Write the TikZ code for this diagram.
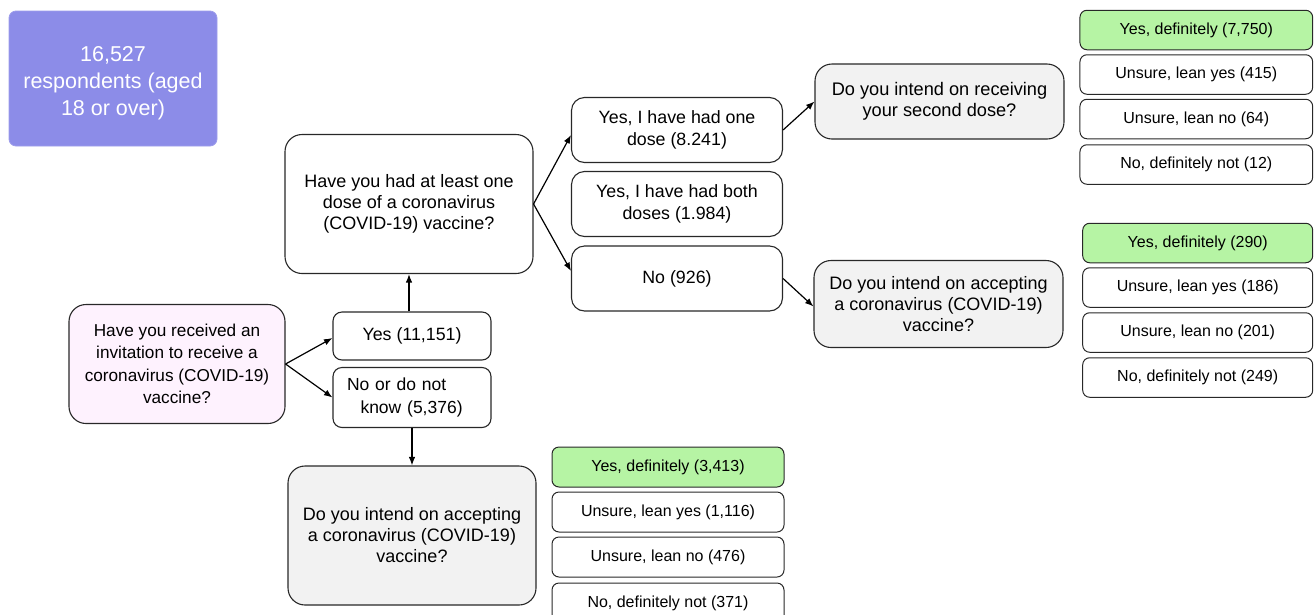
\documentclass[tikz,border=0pt]{standalone}
\usepackage{fontspec}
\setmainfont{Liberation Sans}
\usetikzlibrary{arrows.meta}
\definecolor{purplebox}{RGB}{140,140,232}
\definecolor{pinkbox}{RGB}{254,242,254}
\definecolor{graybox}{RGB}{242,242,242}
\definecolor{greenbox}{RGB}{182,244,164}
\definecolor{edge}{RGB}{40,40,40}
\tikzset{
  box/.style={draw=edge, line width=1.1pt, rounded corners=9pt, align=center, inner sep=0pt,
    font=\fontsize{17.8}{21.5}\selectfont},
  bigbox/.style={box, rounded corners=17pt},
  resbox/.style={draw=edge, line width=1.0pt, rounded corners=7pt, align=center, inner sep=0pt,
    font=\fontsize{16}{19}\selectfont},
  conn/.style={line width=1.2pt, -{Latex[length=8.5pt,width=6.5pt]}},
}
\begin{document}
\begin{tikzpicture}[x=1pt,y=-1pt]
\useasboundingbox (0,0) rectangle (1314,614);
\clip (0,0) rectangle (1314,614);

% start box
\node[fill=purplebox, draw=purplebox!85!white, line width=0.8pt, rounded corners=7pt,
  minimum width=208pt, minimum height=135pt, inner sep=0pt, text=white, align=center,
  font=\fontsize{21.5}{27}\selectfont] (start) at (113,78.5)
  {\rule{0pt}{24pt}16,527\\respondents (aged\\18 or over)};

% level 1
\node[bigbox, fill=pinkbox, minimum width=216pt, minimum height=119pt,
  font=\fontsize{17.2}{22.5}\selectfont] (q1) at (177,364)
  {Have you received an\\invitation to receive a\\coronavirus (COVID-19)\\vaccine?};

\node[box, fill=white, minimum width=158pt, minimum height=48pt] (yes) at (412,336) {Yes (11,151)};
\node[box, fill=white, minimum width=158pt, minimum height=60pt, align=left, text width=130pt,
  inner xsep=14pt, font=\fontsize{17.5}{23}\selectfont] (no) at (412,397.5)
  {No or do not\\\hspace*{13.5pt}know (5,376)};

% level 2
\node[bigbox, fill=white, minimum width=248pt, minimum height=139pt, font=\fontsize{18}{21}\selectfont] (q2) at (409,204)
  {Have you had at least one\\dose of a coronavirus\\(COVID-19) vaccine?};
\node[bigbox, fill=graybox, minimum width=248pt, minimum height=139pt, font=\fontsize{18}{21}\selectfont] (q3) at (412,535.5)
  {Do you intend on accepting\\a coronavirus (COVID-19)\\vaccine?};

% level 3
\node[box, fill=white, rounded corners=13pt, minimum width=211pt, minimum height=65pt] (one) at (677,130)
  {Yes, I have had one\\dose (8.241)};
\node[box, fill=white, rounded corners=13pt, minimum width=211pt, minimum height=65pt] (both) at (677,204)
  {Yes, I have had both\\doses (1.984)};
\node[box, fill=white, rounded corners=13pt, minimum width=211pt, minimum height=65pt] (none) at (677,278.5)
  {No (926)};

% level 4
\node[bigbox, fill=graybox, minimum width=249pt, minimum height=75pt, font=\fontsize{18.2}{20.5}\selectfont] (recv) at (939.5,101.5)
  {Do you intend on receiving\\your second dose?};
\node[bigbox, fill=graybox, minimum width=249pt, minimum height=87pt, font=\fontsize{18}{21}\selectfont] (acc) at (938.5,304)
  {Do you intend on accepting\\a coronavirus (COVID-19)\\vaccine?};

% results A
\node[resbox, fill=greenbox, minimum width=232.7pt, minimum height=39.5pt] (a1) at (1196.3,30) {Yes, definitely (7,750)};
\node[resbox, fill=white, minimum width=232.7pt, minimum height=39.5pt] (a2) at (1196.3,74.5) {Unsure, lean yes (415)};
\node[resbox, fill=white, minimum width=232.7pt, minimum height=39.5pt] (a3) at (1196.3,119) {Unsure, lean no (64)};
\node[resbox, fill=white, minimum width=232.7pt, minimum height=39.5pt] (a4) at (1196.3,164.5) {No, definitely not (12)};

% results B
\node[resbox, fill=greenbox, minimum width=230pt, minimum height=39.5pt] (b1) at (1197.7,243) {Yes, definitely (290)};
\node[resbox, fill=white, minimum width=230pt, minimum height=39.5pt] (b2) at (1197.7,287.5) {Unsure, lean yes (186)};
\node[resbox, fill=white, minimum width=230pt, minimum height=39.5pt] (b3) at (1197.7,332.5) {Unsure, lean no (201)};
\node[resbox, fill=white, minimum width=230pt, minimum height=39.5pt] (b4) at (1197.7,377.5) {No, definitely not (249)};

% results C
\node[resbox, fill=greenbox, minimum width=232pt, minimum height=40pt] (c1) at (668,467) {Yes, definitely (3,413)};
\node[resbox, fill=white, minimum width=232pt, minimum height=40pt] (c2) at (668,512) {Unsure, lean yes (1,116)};
\node[resbox, fill=white, minimum width=232pt, minimum height=40pt] (c3) at (668,557) {Unsure, lean no (476)};
\node[resbox, fill=white, minimum width=232pt, minimum height=40pt] (c4) at (668,603) {No, definitely not (371)};

% connectors
\draw[conn] (q1.east) -- ([yshift=-2pt]yes.west);
\draw[conn] (q1.east) -- (no.west);
\draw[conn] (q2.south |- yes.north) -- (q2.south);
\draw[conn] (no.south) -- (q3.north);
\draw[conn] (q2.east) -- ([yshift=-5pt]one.west);
\draw[conn] (q2.east) -- ([yshift=7.5pt]none.west);
\draw[conn] (one.east) -- (recv.west);
\draw[conn] (none.east) -- ([yshift=-2.5pt]acc.west);
\end{tikzpicture}
\end{document}
